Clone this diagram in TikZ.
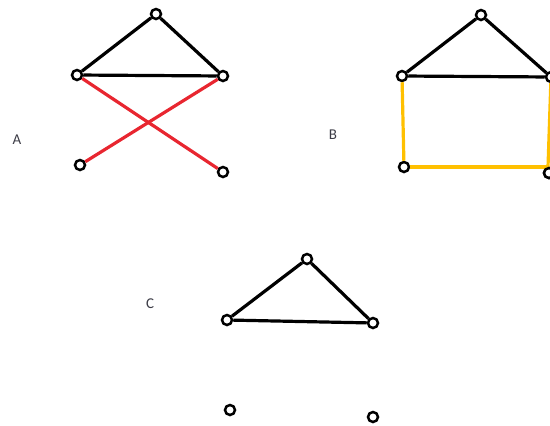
\documentclass[tikz,border=0pt]{standalone}
\usepackage{fontspec}
\setmainfont{Carlito}
\begin{document}
\begin{tikzpicture}[x=1pt,y=-1pt,
  vtx/.style={circle,draw=black,line width=2.5pt,fill=white,inner sep=0pt,minimum size=10pt},
  edg/.style={line width=3.2pt,black},
  rededge/.style={line width=3.2pt,draw={rgb,255:red,232;green,38;blue,48}},
  yeledge/.style={line width=3.2pt,draw={rgb,255:red,255;green,192;blue,0}},
  lbl/.style={font=\fontsize{15}{18}\selectfont,text={rgb,255:red,60;green,60;blue,70}}]
\useasboundingbox (0,0) rectangle (550,426);
\clip (0,0) rectangle (550,426);
% A
\node[vtx] (at) at (156,14) {};
\node[vtx] (al) at (77,75) {};
\node[vtx] (ar) at (223,76) {};
\node[vtx] (abl) at (80,165) {};
\node[vtx] (abr) at (223,172) {};
\node[lbl] (la) at (17,140) {A};
\draw[edg] (al) -- (at) -- (ar) -- (al);
\draw[rededge] (al) -- (abr);
\draw[rededge] (ar) -- (abl);
% B
\node[vtx] (bt) at (481,15) {};
\node[vtx] (bl) at (402,76) {};
\node[vtx] (br) at (551,77) {};
\node[vtx] (bbl) at (404,167) {};
\node[vtx] (bbr) at (549,173) {};
\coordinate (bc) at (548,167);
\node[lbl] (lb) at (333,135) {B};
\draw[edg] (bl) -- (bt) -- (br) -- (bl);
\draw[yeledge] (bl) -- (bbl);
\draw[yeledge] (bbl) -- (bc);
\draw[yeledge] (br) -- (bc);
\node[vtx] at (bbr) {};
% C
\node[vtx] (ct) at (307,259) {};
\node[vtx] (cl) at (227,320) {};
\node[vtx] (cr) at (373,323) {};
\node[vtx] (cbl) at (230,410) {};
\node[vtx] (cbr) at (373,417) {};
\node[lbl] (lc) at (150,304) {C};
\draw[edg] (cl) -- (ct) -- (cr) -- (cl);
\end{tikzpicture}
\end{document}
